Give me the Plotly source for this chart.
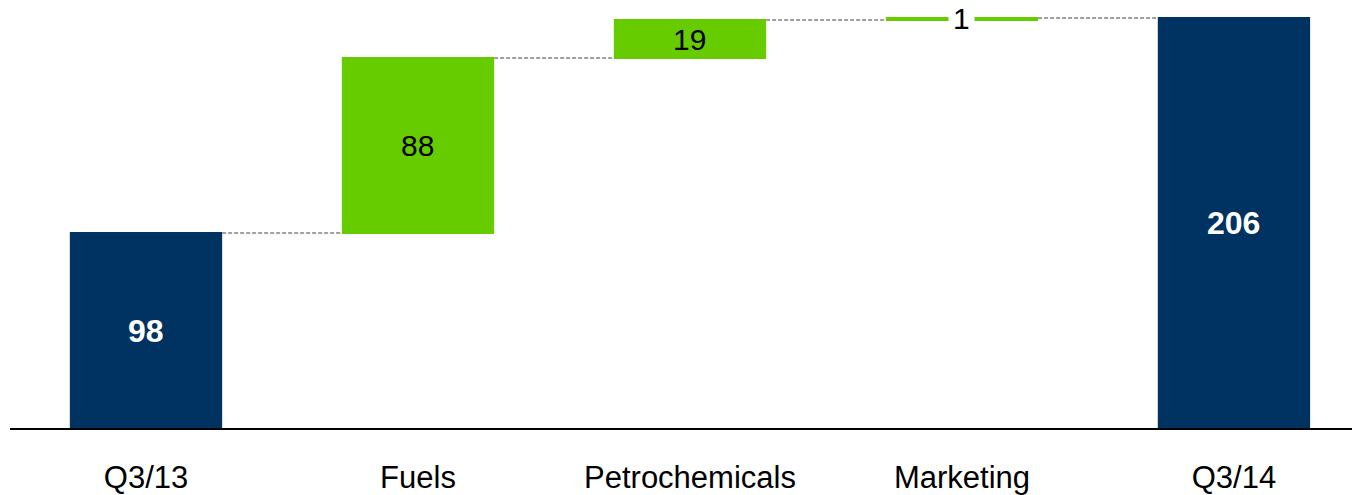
import plotly.graph_objects as go

categories = ["Q3/13", "Fuels", "Petrochemicals", "Marketing", "Q3/14"]
values = [98, 88, 19, 1, 206]
measures = ["absolute", "relative", "relative", "relative", "total"]
labels = ["98", "88", "19", "1", "206"]

NAVY = "#003262"
GREEN = "#66CC00"
FONT = "Liberation Sans, Arial, sans-serif"

fig = go.Figure(go.Waterfall(
    x=categories,
    y=values,
    measure=measures,
    width=0.56,
    textposition="none",
    increasing=dict(marker=dict(color=GREEN)),
    decreasing=dict(marker=dict(color=GREEN)),
    totals=dict(marker=dict(color=NAVY)),
    connector=dict(mode="between", line=dict(color="#A0A0A0", width=2, dash="4px,2px")),
    hoverinfo="skip",
))

# label positions: midpoints of each bar
running = 0
for cat, val, meas, lab in zip(categories, values, measures, labels):
    if meas == "absolute":
        lo, hi = 0, val
        running = val
    elif meas == "total":
        lo, hi = 0, running
    else:
        lo, hi = running, running + val
        running += val
    mid = (lo + hi) / 2
    is_total = meas != "relative"
    small = (hi - lo) < 5
    fig.add_annotation(
        x=cat, y=mid, text=f"<b>{lab}</b>" if is_total else lab,
        showarrow=False,
        font=dict(family=FONT, size=32 if is_total else 30, color="white" if is_total else "black"),
        bgcolor="white" if small else None,
        borderpad=4 if small else 0,
        yshift=1 if small else 0,
    )

fig.update_layout(
    width=1352, height=495,
    margin=dict(l=10, r=0, t=0, b=67, autoexpand=False),
    paper_bgcolor="white", plot_bgcolor="white",
    showlegend=False,
    font=dict(family=FONT, size=31, color="black"),
    xaxis=dict(
        type="category",
        range=[-0.5, 4.434],
        automargin=False,
        showline=True, linecolor="black", linewidth=2,
        showgrid=False, zeroline=False,
        ticks="", ticklabelstandoff=21,
        tickfont=dict(family=FONT, size=31, color="black"),
    ),
    yaxis=dict(
        range=[0, 215.1],
        automargin=False,
        visible=False, showgrid=False, zeroline=False,
    ),
)

fig.write_html("out.html")
